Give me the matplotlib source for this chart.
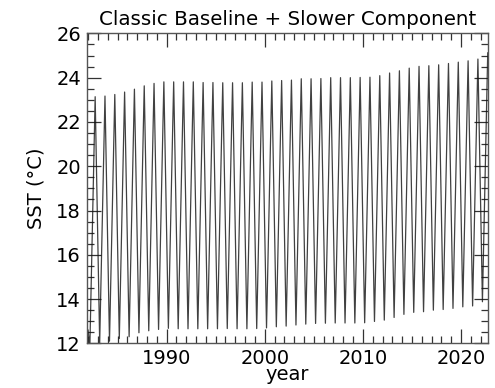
import matplotlib
matplotlib.use("Agg")
import matplotlib.pyplot as plt
import numpy as np

years = list(range(1982, 2023))
peak_sst = [23.14, 23.17, 23.24, 23.35, 23.48, 23.63, 23.74, 23.81, 23.81, 23.81,
            23.81, 23.78, 23.78, 23.77, 23.77, 23.77, 23.80, 23.80, 23.85, 23.87,
            23.89, 23.95, 23.95, 23.96, 24.00, 24.00, 24.00, 24.01, 24.02, 24.09,
            24.21, 24.31, 24.43, 24.51, 24.54, 24.58, 24.64, 24.70, 24.76, 24.84,
            25.12]
trough_sst = [11.85, 12.03, 12.10, 12.22, 12.30, 12.48, 12.57, 12.63, 12.68, 12.66,
              12.66, 12.66, 12.66, 12.66, 12.67, 12.66, 12.66, 12.67, 12.70, 12.75,
              12.78, 12.83, 12.87, 12.90, 12.91, 12.92, 12.92, 12.92, 12.93, 12.99,
              13.05, 13.17, 13.31, 13.40, 13.43, 13.50, 13.53, 13.58, 13.65, 13.69,
              13.88]
trough_phase = 0.18
peak_phase = 0.72
start_time = 1982.0
start_sst = 12.6

t = [start_time]
v = [start_sst]
for y, lo, hi in zip(years, trough_sst, peak_sst):
    t += [y + trough_phase, y + peak_phase]
    v += [lo, hi]

fig = plt.figure(figsize=(4.95, 3.88), dpi=100)
ax = fig.add_axes([0.175, 0.115, 0.8115, 0.799])
ax.plot(t, v, color="#111111", lw=0.9, alpha=0.8)

ax.set_xlim(1981.85, 2022.78)
ax.set_ylim(12, 26)
ax.set_xticks([1990, 2000, 2010, 2020])
ax.set_xticks(np.arange(1982, 2023), minor=True)
ax.set_yticks([12, 14, 16, 18, 20, 22, 24, 26])
ax.set_yticks(np.arange(12, 26.01, 0.5), minor=True)
ax.tick_params(which="both", direction="in", top=True, right=True,
               labelsize=14, color="#333333", width=0.9)
ax.tick_params(which="major", length=10, pad=4)
ax.tick_params(which="minor", length=5)
for s in ax.spines.values():
    s.set_color("#555555")
    s.set_linewidth(1.0)
ax.set_title("Classic Baseline + Slower Component", fontsize=14.3, pad=6)
ax.set_ylabel("SST (°C)", fontsize=14, labelpad=8)
ax.set_xlabel("year", fontsize=14, labelpad=-2)

fig.savefig("out.png", dpi=100)
